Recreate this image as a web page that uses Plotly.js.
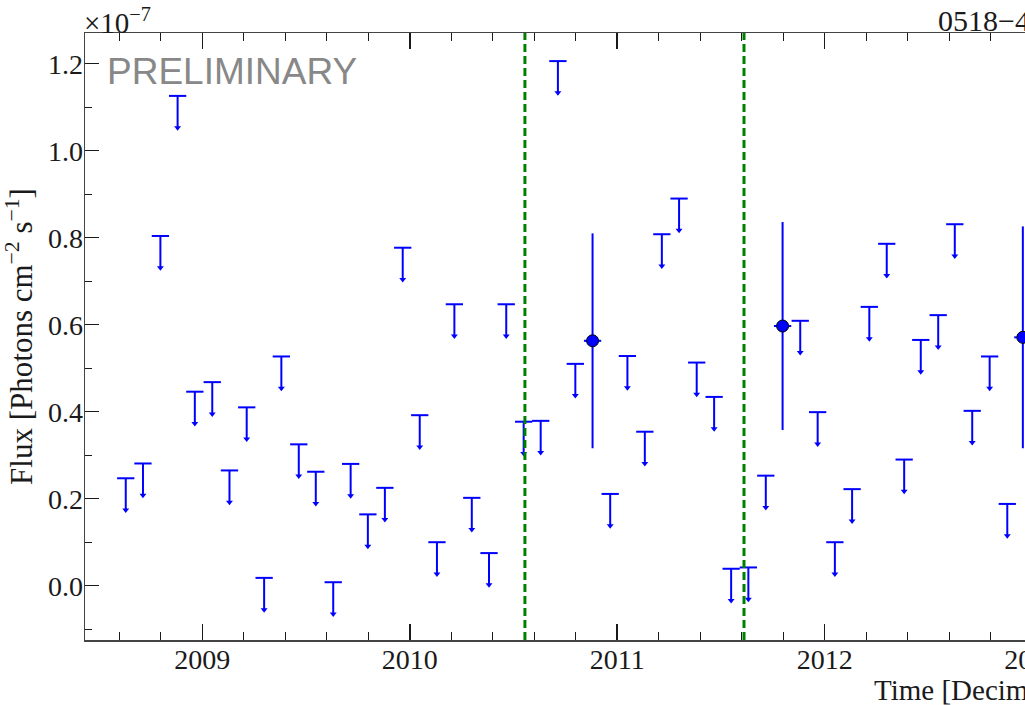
<!DOCTYPE html>
<html>
<head>
<meta charset="utf-8">
<script src="https://cdn.plot.ly/plotly-3.0.1.min.js"></script>
<style>
  html, body { margin: 0; padding: 0; overflow: hidden; background: #fff; }
  #lc { width: 1120px; height: 705px; }
</style>
</head>
<body>
<div id="lc"></div>
<script>
// Monthly-binned light curve: upper limits and detections (flux in units of 1e-7 ph cm^-2 s^-1)
const ulTime = [2008.631, 2008.714, 2008.798, 2008.881, 2008.964, 2009.048, 2009.131, 2009.214,
  2009.298, 2009.381, 2009.465, 2009.547, 2009.631, 2009.715, 2009.798, 2009.880, 2009.966,
  2010.048, 2010.131, 2010.215, 2010.299, 2010.382, 2010.465, 2010.549, 2010.631, 2010.714,
  2010.798, 2010.966, 2011.049, 2011.133, 2011.215, 2011.298, 2011.383, 2011.467, 2011.549,
  2011.632, 2011.716, 2011.882, 2011.966, 2012.049, 2012.132, 2012.215, 2012.299, 2012.383,
  2012.463, 2012.547, 2012.627, 2012.711, 2012.795, 2012.880];
const ulFlux = [0.247, 0.281, 0.804, 1.126, 0.446, 0.468, 0.265, 0.410,
  0.018, 0.527, 0.325, 0.262, 0.008, 0.280, 0.164, 0.225, 0.777,
  0.392, 0.100, 0.647, 0.202, 0.075, 0.647, 0.377, 0.379, 1.206,
  0.510, 0.211, 0.528, 0.354, 0.808, 0.890, 0.513, 0.434, 0.039,
  0.042, 0.253, 0.609, 0.399, 0.100, 0.222, 0.641, 0.786, 0.290,
  0.565, 0.622, 0.831, 0.402, 0.527, 0.188];

const detTime = [2010.881, 2011.797, 2012.955];
const detFlux = [0.563, 0.597, 0.571];
const detErr  = [0.247, 0.239, 0.255];

// Dates of the two marked epochs
const eventTime = [2010.555, 2011.611];

// Half of a one-month time bin, in years
const binHalf = 1 / 24;

const yTickVals = [0.0, 0.2, 0.4, 0.6, 0.8, 1.0, 1.2];
const xTickVals = [2009, 2010, 2011, 2012, 2013];

// drawing constants
const ARROW = 0.073;
const BLUE = '#0000ff';
const SERIF = '"Liberation Serif", "Times New Roman", serif';
const INK = '#1a1a1a';

const halfBins = (arr) => arr.map(() => binHalf);

const ulBars = {
  x: ulTime, y: ulFlux, type: 'scatter', mode: 'markers',
  marker: { size: 0.1, color: BLUE, opacity: 0 },
  error_x: { type: 'data', array: halfBins(ulTime), width: 0, thickness: 2, color: BLUE },
  error_y: { type: 'data', symmetric: false, array: ulFlux.map(() => 0),
             arrayminus: ulFlux.map(() => ARROW), width: 0, thickness: 2, color: BLUE },
  hoverinfo: 'skip', showlegend: false
};

const ulHeads = {
  x: ulTime, y: ulFlux.map(v => v - ARROW), type: 'scatter', mode: 'markers',
  marker: { symbol: 'triangle-down', size: 6, color: BLUE, line: { width: 0 } },
  hoverinfo: 'skip', showlegend: false
};

const detections = {
  x: detTime, y: detFlux, type: 'scatter', mode: 'markers',
  marker: { symbol: 'circle', size: 12, color: BLUE, line: { color: '#000', width: 1 } },
  error_x: { type: 'data', array: halfBins(detTime), width: 0, thickness: 2, color: BLUE },
  error_y: { type: 'data', array: detErr, width: 0, thickness: 2, color: BLUE },
  showlegend: false
};

const shapes = eventTime.map(t => ({
  type: 'line', xref: 'x', yref: 'paper', x0: t, x1: t, y0: 0, y1: 1,
  line: { color: '#008000', width: 3, dash: '8px,4px' }, layer: 'above'
}));

const axisCommon = {
  showgrid: false, zeroline: false, showline: true, linecolor: '#444', linewidth: 1.5,
  ticks: 'inside', mirror: 'ticks', tickcolor: INK, tickwidth: 1.5,
  tickfont: { family: SERIF, size: 28, color: INK }
};

const layout = {
  width: 1120, height: 705,
  margin: { l: 85, r: 35, t: 33, b: 65 },
  paper_bgcolor: '#fff', plot_bgcolor: '#fff',
  xaxis: Object.assign({}, axisCommon, {
    range: [2008.4346, 2013.2546],
    tickvals: xTickVals, ticktext: xTickVals.map(String), ticklen: 16,
    ticklabelstandoff: -6,
    minor: { dtick: 0.2, tick0: 2009, ticks: 'inside', ticklen: 8, tickwidth: 1.3, tickcolor: INK }
  }),
  yaxis: Object.assign({}, axisCommon, {
    range: [-0.1248, 1.2706],
    tickvals: yTickVals, ticktext: yTickVals.map(v => v.toFixed(1)), ticklen: 14,
    ticklabelstandoff: -5,
    minor: { dtick: 0.1, tick0: 0, ticks: 'inside', ticklen: 7, tickwidth: 1.3, tickcolor: INK },
    title: { text: 'Flux [Photons cm<sup>−2</sup> s<sup>−1</sup>]',
             font: { family: SERIF, size: 31, color: INK }, standoff: 8 }
  }),
  shapes: shapes,
  annotations: [
    { text: 'PRELIMINARY', xref: 'paper', yref: 'paper', x: 0.02, y: 0.937,
      xanchor: 'left', yanchor: 'middle', showarrow: false,
      font: { family: '"Liberation Sans", Arial, sans-serif', size: 37, color: '#888' } },
    { text: '×10<sup>−7</sup>', xref: 'paper', yref: 'paper', x: -0.003, y: 0.986,
      xanchor: 'left', yanchor: 'bottom', showarrow: false,
      font: { family: SERIF, size: 29, color: INK } },
    { text: '0518−458', xref: 'paper', yref: 'paper', x: 0.851, y: 0.99,
      xanchor: 'left', yanchor: 'bottom', showarrow: false,
      font: { family: SERIF, size: 30, color: INK } },
    { text: 'Time [Decimal Year]', xref: 'paper', yref: 'paper', x: 0.787, y: -0.082,
      xanchor: 'left', yanchor: 'middle', showarrow: false,
      font: { family: SERIF, size: 29, color: INK } }
  ]
};

Plotly.newPlot('lc', [ulBars, ulHeads, detections], layout, { displayModeBar: false, staticPlot: true });
</script>
</body>
</html>
